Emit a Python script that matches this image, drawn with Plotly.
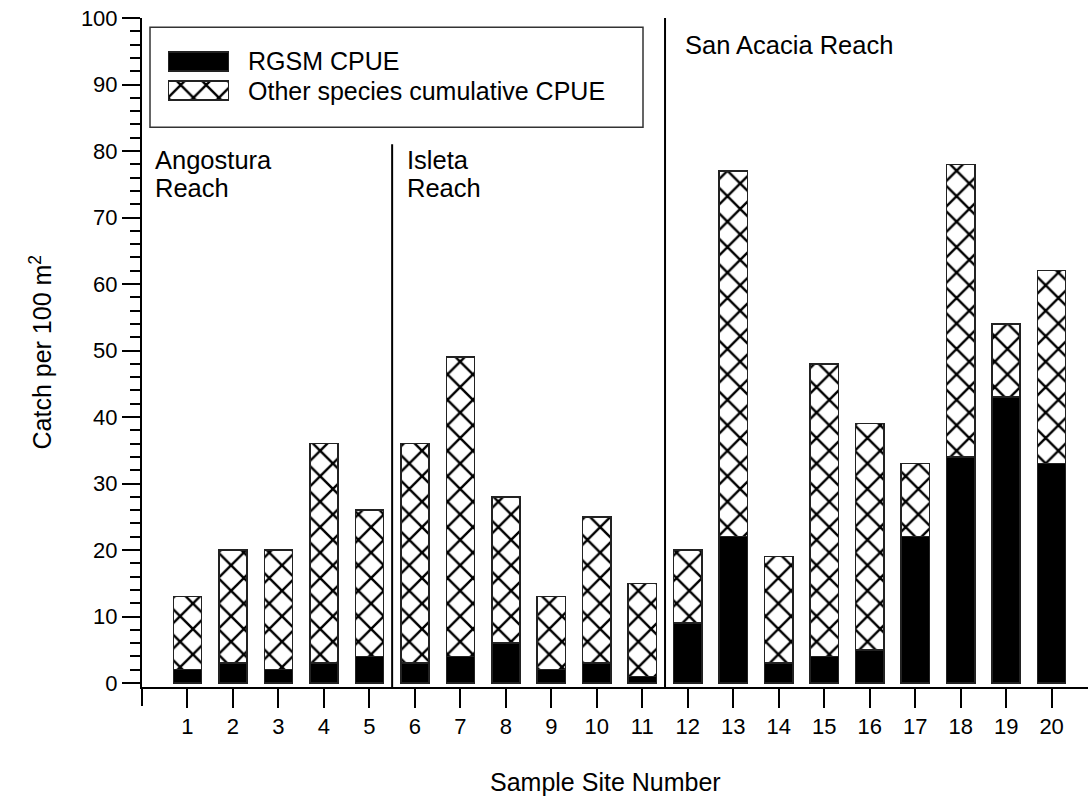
import plotly.graph_objects as go

# Catch per unit effort at each sample site
sites = list(range(1, 21))
rgsm_cpue = [2, 3, 2, 3, 4, 3, 4, 6, 2, 3, 1, 9, 22, 3, 4, 5, 22, 34, 43, 33]
other_cpue = [11, 17, 18, 33, 22, 33, 45, 22, 11, 22, 14, 11, 55, 16, 44, 34, 11, 44, 11, 29]

series_names = ["RGSM CPUE", "Other species cumulative CPUE"]

# Reach labels (one entry per line) and the dividers between reaches
reach_lines = [["Angostura", "Reach"], ["Isleta", "Reach"], ["San Acacia Reach"]]
reach_starts = [0, 5.5, 11.5]
reach_label_top = [78.6, 78.6, 95.9]
reach_label_pad = [11, 13, 18]
divider_x = [5.5, 11.5]
divider_top = [81, 100]

FONT = "Liberation Sans, Arial, sans-serif"
W, H = 1088, 802
ML, MR, MT, MB = 142, 0, 18, 115
PW, PH = W - ML - MR, H - MT - MB


def px_x(p):
    return (p - ML) / PW


def px_y(p):
    return (H - MB - p) / PH


hatch = dict(shape="x", size=18, solidity=0.25, fgcolor="black", fgopacity=1, bgcolor="white")
outline = dict(color="#222222", width=1.5)

fig = go.Figure()
fig.add_trace(go.Bar(x=sites, y=rgsm_cpue, name=series_names[0], width=0.62,
                     marker=dict(color="black", line=outline), showlegend=False))
fig.add_trace(go.Bar(x=sites, y=other_cpue, name=series_names[1], width=0.62,
                     marker=dict(color="white", pattern=hatch, line=outline), showlegend=False))

# Legend swatches on a small inset axis
fig.add_trace(go.Bar(x=[1], y=[1], orientation="h", width=0.66, xaxis="x2", yaxis="y2",
                     marker=dict(color="black", line=outline), showlegend=False, hoverinfo="skip"))
fig.add_trace(go.Bar(x=[1], y=[0], orientation="h", width=0.66, xaxis="x2", yaxis="y2",
                     marker=dict(color="white", pattern=hatch, line=outline), showlegend=False,
                     hoverinfo="skip"))

shapes = []
for xd, top in zip(divider_x, divider_top):
    shapes.append(dict(type="line", xref="x", yref="y", x0=xd, x1=xd, y0=-0.6, y1=top,
                       line=dict(color="black", width=2)))
# y axis line continues below the x axis
shapes.append(dict(type="line", xref="paper", yref="paper", x0=0, x1=0, y0=0, y1=px_y(706),
                   line=dict(color="black", width=2)))
# legend frame
shapes.append(dict(type="rect", xref="paper", yref="paper", x0=px_x(150), x1=px_x(643),
                   y0=px_y(127.3), y1=px_y(27.3), line=dict(color="#333333", width=1.5),
                   fillcolor="rgba(0,0,0,0)"))

annotations = []
for name, yp in zip(series_names, [61.3, 90.5]):
    annotations.append(dict(text=name, xref="paper", yref="paper", x=px_x(246), y=px_y(yp),
                            xanchor="left", yanchor="middle", showarrow=False,
                            font=dict(family=FONT, size=25, color="black")))
for lines, xs, ytop, pad in zip(reach_lines, reach_starts, reach_label_top, reach_label_pad):
    for i, line in enumerate(lines):
        annotations.append(dict(text=line, xref="x", yref="y", x=xs, y=ytop - i * 4.1,
                                xanchor="left", yanchor="middle", xshift=pad, showarrow=False,
                                font=dict(family=FONT, size=25.5, color="black")))
annotations.append(dict(text="Sample Site Number", xref="paper", yref="paper", x=0.49,
                        y=px_y(782), xanchor="center", yanchor="middle", showarrow=False,
                        font=dict(family=FONT, size=25, color="black")))
annotations.append(dict(text="Catch per 100 m<sup>2</sup>", xref="paper", yref="paper",
                        x=px_x(40), y=0.5, xanchor="center", yanchor="middle", textangle=-90,
                        showarrow=False, font=dict(family=FONT, size=25, color="black")))

fig.update_layout(
    width=W, height=H,
    margin=dict(l=ML, r=MR, t=MT, b=MB),
    barmode="stack",
    plot_bgcolor="white", paper_bgcolor="white",
    font=dict(family=FONT, color="black"),
    xaxis=dict(range=[0, 20.8], tickvals=sites, ticktext=[str(s) for s in sites],
               showline=True, linecolor="black", linewidth=2, ticks="outside", ticklen=19,
               tickwidth=1.5, tickcolor="black", showgrid=False, zeroline=False,
               tickfont=dict(size=22)),
    yaxis=dict(range=[-0.6, 100], tick0=0, dtick=10, showline=True, linecolor="black",
               linewidth=2, ticks="outside", ticklen=18, tickwidth=1.5, tickcolor="black",
               showgrid=False, zeroline=False, tickfont=dict(size=22),
               minor=dict(dtick=2, ticks="outside", ticklen=10, tickwidth=1.5,
                          tickcolor="black")),
    xaxis2=dict(domain=[px_x(168), px_x(229)], range=[0, 1], anchor="y2", visible=False),
    yaxis2=dict(domain=[px_y(105), px_y(46.8)], range=[-0.5, 1.5], anchor="x2", visible=False),
    shapes=shapes,
    annotations=annotations,
)

fig.write_html("out.html")
